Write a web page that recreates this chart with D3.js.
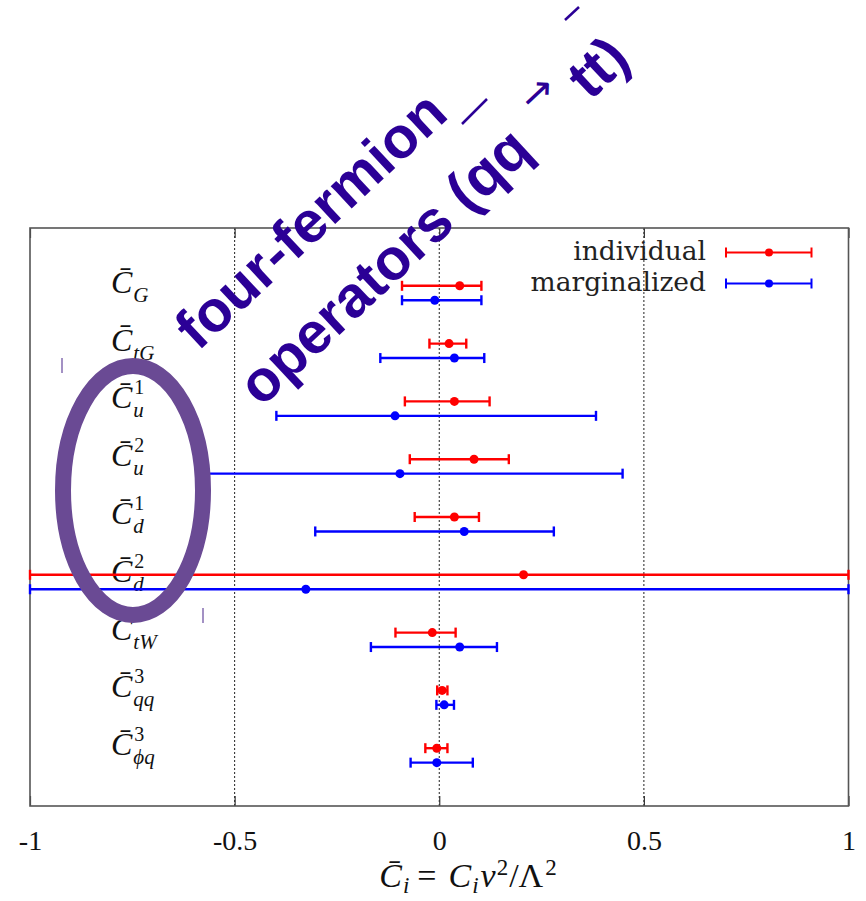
<!DOCTYPE html>
<html>
<head>
<meta charset="utf-8">
<script src="https://cdn.jsdelivr.net/npm/d3@7"></script>
<style>
  html, body { margin: 0; padding: 0; background: #fff; }
  svg { display: block; }
</style>
</head>
<body>
<div id="chart"></div>
<script>
// Operator coefficients: index notation for labels
const labelSub = ["G", "tG", "u", "u", "d", "d", "tW", "qq", "\u03d5q"];
const labelSup = ["", "", "1", "2", "1", "2", "", "3", "3"];

// Individual fits: best value and interval
const indivCenter = [0.050, 0.024, 0.037, 0.085, 0.037, 0.206, -0.017, 0.007, -0.006];
const indivLow    = [-0.091, -0.024, -0.084, -0.072, -0.060, -1.0, -0.107, -0.005, -0.034];
const indivHigh   = [0.103, 0.066, 0.123, 0.170, 0.097, 1.0, 0.040, 0.020, 0.020];

// Marginalized fits: best value and interval
const margCenter = [-0.011, 0.037, -0.108, -0.096, 0.061, -0.326, 0.050, 0.012, -0.006];
const margLow    = [-0.091, -0.144, -0.398, -0.580, -0.303, -1.0, -0.167, -0.007, -0.070];
const margHigh   = [0.103, 0.110, 0.383, 0.448, 0.280, 1.0, 0.141, 0.036, 0.082];

const xTicks = [-1, -0.5, 0, 0.5, 1];
const xTickLabels = ["-1", "-0.5", "0", "0.5", "1"];
const seriesNames = ["individual", "marginalized"];

const W = 866, H = 901;
const svg = d3.select("#chart").append("svg").attr("width", W).attr("height", H);

const x = d3.scaleLinear().domain([-1, 1]).range([30, 848.5]);
const y = d3.scaleLinear().domain([0, 10]).range([228, 806]);

const RED = "#ff0000", BLUE = "#0000ff";
const serif = "'Liberation Serif', 'DejaVu Serif', serif";

// dotted reference lines
svg.append("g").selectAll("line").data(xTicks.slice(1, -1)).join("line")
  .attr("x1", d => x(d)).attr("x2", d => x(d))
  .attr("y1", y(0)).attr("y2", y(10))
  .attr("stroke", "#222").attr("stroke-width", 1)
  .attr("stroke-dasharray", "2,2");

// inward ticks on bottom and top
const axisB = d3.axisBottom(x).tickValues(xTicks).tickSize(-10).tickFormat((d, i) => xTickLabels[i]).tickPadding(24);
const gB = svg.append("g").attr("transform", `translate(0,${y(10)})`).call(axisB);
gB.select(".domain").remove();
gB.selectAll(".tick line").attr("stroke", "#333").attr("stroke-width", 1.2);
gB.selectAll(".tick text").attr("font-family", serif).attr("font-size", 28).attr("fill", "#111");

const axisT = d3.axisTop(x).tickValues(xTicks).tickSize(-10).tickFormat("");
const gT = svg.append("g").attr("transform", `translate(0,${y(0)})`).call(axisT);
gT.select(".domain").remove();
gT.selectAll(".tick line").attr("stroke", "#333").attr("stroke-width", 1.2);

// frame
svg.append("rect")
  .attr("x", x(-1)).attr("y", y(0))
  .attr("width", x(1) - x(-1)).attr("height", y(10) - y(0))
  .attr("fill", "none").attr("stroke", "#555").attr("stroke-width", 1.6);

// row labels: C̄ with stacked sub/superscripts
const labels = svg.append("g").attr("font-family", serif).attr("font-style", "italic").attr("fill", "#111");
const probe = labels.append("text").attr("font-size", 32).text("C\u0304");
const cW = probe.node().getComputedTextLength();
probe.remove();
labelSub.forEach((sub, i) => {
  const by = y(i + 1.12);
  const t = labels.append("text").attr("x", 111).attr("y", by).attr("font-size", 32);
  t.append("tspan").text("C\u0304");
  if (labelSup[i]) {
    t.append("tspan").attr("x", 111 + cW + 2).attr("y", by - 14).attr("font-size", 20)
      .attr("font-style", "normal").text(labelSup[i]);
  }
  t.append("tspan").attr("x", 111 + cW + 1).attr("y", by + 9).attr("font-size", 21).text(sub);
});

// error bars
function drawSeries(center, low, high, offset, color) {
  const g = svg.append("g");
  const rows = center.map((c, i) => ({ c, lo: low[i], hi: high[i], yy: y(i + offset) }));
  g.selectAll("line.bar").data(rows).join("line").attr("class", "bar")
    .attr("x1", d => x(d.lo)).attr("x2", d => x(d.hi))
    .attr("y1", d => d.yy).attr("y2", d => d.yy)
    .attr("stroke", color).attr("stroke-width", 2.4);
  g.selectAll("line.capL").data(rows).join("line").attr("class", "capL")
    .attr("x1", d => x(d.lo)).attr("x2", d => x(d.lo))
    .attr("y1", d => d.yy - 5).attr("y2", d => d.yy + 5)
    .attr("stroke", color).attr("stroke-width", 2.4);
  g.selectAll("line.capR").data(rows).join("line").attr("class", "capR")
    .attr("x1", d => x(d.hi)).attr("x2", d => x(d.hi))
    .attr("y1", d => d.yy - 5).attr("y2", d => d.yy + 5)
    .attr("stroke", color).attr("stroke-width", 2.4);
  g.selectAll("circle").data(rows).join("circle")
    .attr("cx", d => x(d.c)).attr("cy", d => d.yy).attr("r", 4.5)
    .attr("fill", color);
}
drawSeries(indivCenter, indivLow, indivHigh, 1, RED);
drawSeries(margCenter, margLow, margHigh, 1.25, BLUE);

// legend
const legend = svg.append("g");
[RED, BLUE].forEach((col, k) => {
  const ly = 252.5 + k * 31;
  legend.append("text").attr("x", 706).attr("y", ly + 7.5).attr("text-anchor", "end")
    .attr("font-family", "'DejaVu Serif', serif").attr("font-size", 26.5).attr("fill", "#222").text(seriesNames[k]);
  legend.append("line").attr("x1", 726).attr("x2", 811.5).attr("y1", ly).attr("y2", ly)
    .attr("stroke", col).attr("stroke-width", 2);
  legend.append("line").attr("x1", 726).attr("x2", 726).attr("y1", ly - 5).attr("y2", ly + 5)
    .attr("stroke", col).attr("stroke-width", 2);
  legend.append("line").attr("x1", 811.5).attr("x2", 811.5).attr("y1", ly - 5).attr("y2", ly + 5)
    .attr("stroke", col).attr("stroke-width", 2);
  legend.append("circle").attr("cx", 769).attr("cy", ly).attr("r", 4).attr("fill", col);
});

// x-axis title
const xt = svg.append("text").attr("x", 468).attr("y", 887).attr("text-anchor", "middle")
  .attr("font-family", serif).attr("font-size", 34).attr("fill", "#111");
xt.append("tspan").attr("font-style", "italic").text("C\u0304");
xt.append("tspan").attr("font-style", "italic").attr("font-size", 23).attr("dy", 6).attr("dx", 1).text("i");
xt.append("tspan").attr("dy", -6).attr("dx", 8).text("=");
xt.append("tspan").attr("font-style", "italic").attr("dx", 12).text("C");
xt.append("tspan").attr("font-style", "italic").attr("font-size", 23).attr("dy", 6).attr("dx", 1).text("i");
xt.append("tspan").attr("font-style", "italic").attr("dy", -6).attr("dx", 2).text("v");
xt.append("tspan").attr("font-size", 23).attr("dy", -12).attr("dx", 1).text("2");
xt.append("tspan").attr("dy", 12).attr("dx", 1).text("/\u039b");
xt.append("tspan").attr("font-size", 23).attr("dy", -12).attr("dx", 2).text("2");

// highlight ring around the four-fermion operators
svg.append("ellipse").attr("cx", 133).attr("cy", 490.5).attr("rx", 70).attr("ry", 124.5)
  .attr("fill", "none").attr("stroke", "#6a4a94").attr("stroke-width", 16);
svg.append("line").attr("x1", 62).attr("x2", 62).attr("y1", 358).attr("y2", 373)
  .attr("stroke", "#a391c4").attr("stroke-width", 2);
svg.append("line").attr("x1", 203).attr("x2", 203).attr("y1", 608).attr("y2", 623)
  .attr("stroke", "#a391c4").attr("stroke-width", 2);

// slanted annotation
const INK = "#2b0096";
const ann = svg.append("g").attr("transform", "translate(198,352) rotate(-43)")
  .attr("font-family", "'Liberation Sans', Arial, sans-serif").attr("fill", INK);
ann.append("text").attr("x", 0).attr("y", 0).attr("font-size", 58).attr("font-weight", "bold").text("four-fermion");
const l2 = ann.append("text").attr("x", 8).attr("y", 84).attr("font-size", 58).attr("font-weight", "bold");
l2.append("tspan").text("operators (qq ");
l2.append("tspan").attr("font-family", "'DejaVu Sans', sans-serif").attr("font-weight", "normal")
  .attr("font-size", 40).attr("dx", 10).attr("dy", -29).text("\u2192");
l2.append("tspan").attr("dy", 29).text(" tt)");
// bars of the antiquark / antitop
svg.append("line").attr("x1", 462).attr("y1", 124).attr("x2", 487).attr("y2", 99)
  .attr("stroke", INK).attr("stroke-width", 2.5);
svg.append("line").attr("x1", 565).attr("y1", 20).attr("x2", 579).attr("y2", 7)
  .attr("stroke", INK).attr("stroke-width", 2.5);
</script>
</body>
</html>
